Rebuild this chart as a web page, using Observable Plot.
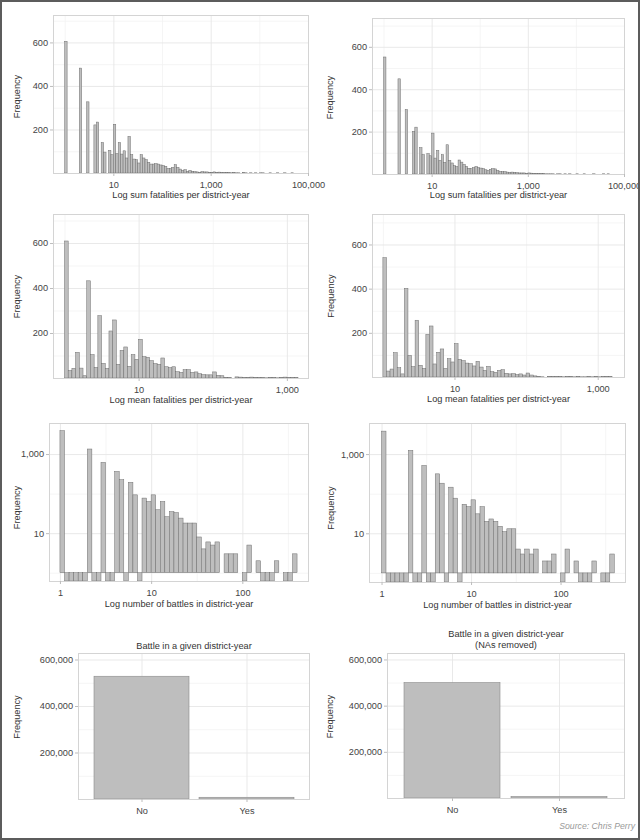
<!DOCTYPE html>
<html><head><meta charset="utf-8">
<script src="https://cdn.jsdelivr.net/npm/d3@7"></script>
<script src="https://cdn.jsdelivr.net/npm/@observablehq/plot@0.6"></script>
<style>
html,body{margin:0;padding:0;background:#fff;}
#page{position:relative;width:640px;height:840px;overflow:hidden;background:#fff;font-family:"Liberation Sans",Arial,sans-serif;}
#page svg{position:absolute;overflow:visible;max-width:none;}
#border{position:absolute;left:0;top:0;width:640px;height:840px;box-sizing:border-box;border:2px solid #5c5c5c;pointer-events:none;}
#source{position:absolute;right:5px;top:821px;font-size:8.7px;font-style:italic;color:#9a9a9a;}
</style></head><body>
<div id="page"><div id="source">Source: Chris Perry</div><div id="border"></div></div>
<script>
// ---- data: histogram bin counts (bins are 0.05 wide on log10 scale, starting at 1) ----
const binWidthLog = 0.05;

const sumFatalitiesAll = [605,0,0,0,0,0,482,0,0,327,
 0,0,221,234,0,140,96,0,104,84,
 224,89,140,87,102,69,168,84,64,61,
 46,84,69,61,49,41,41,43,41,37,
 34,31,21,21,26,38,26,18,12,15,
 8,12,8,6,5,3,6,5,5,3,
 3,5,3,4,2,2,3,2,1,2,
 1,1,0,2,1,0,1,0,1,0,
 1,1,0,0,1,0,0,1,0,0,
 1,0,0,1];

const sumFatalitiesNoNA = [552,0,0,0,0,0,449,0,0,304,
 0,0,201,221,0,124,91,0,96,86,
 193,75,111,64,91,55,138,64,52,39,
 35,66,56,45,36,27,25,30,35,30,
 28,25,20,17,22,25,24,17,12,11,
 11,9,8,9,8,6,5,5,5,3,
 5,4,3,3,2,2,2,1,1,1,
 1,0,1,1,0,1,0,1,0,0,
 1,0,0,1,0,0,0,1,0,0,
 0,1,0,1];

const meanFatalitiesAll = [609,33,43,114,44,10,432,104,47,277,
 65,43,209,258,61,123,138,52,104,83,
 172,95,92,77,64,61,89,50,46,50,
 28,25,37,37,25,27,19,15,14,14,
 27,12,10,3,2,0,5,4,2,3,
 4,3,2,2,1,3,2,1,3,4,
 2,2,2];

const meanFatalitiesNoNA = [540,27,36,110,42,14,401,98,47,257,
 53,39,193,231,59,112,127,39,83,68,
 151,80,74,63,60,50,71,45,30,48,
 24,21,30,33,17,14,15,11,14,9,
 18,9,5,3,1,0,3,2,3,2,
 1,2,3,1,2,1,1,2,1,3,
 1,2,3,2];

const battlesAll = [3900,0,0,0,0,0,1340,0,0,614,
 0,0,363,224,0,192,93,0,77,63,
 93,39,63,26,35,33,24,18,18,18,
 8,4,6,5,6,1,3,3,3,1,
 0,5,1,2,0,0,0,2,1,0,
 0,3];

const battlesNoNA = [3800,0,0,0,0,0,1235,0,0,516,
 0,0,317,184,0,146,77,0,54,47,
 70,31,47,20,23,20,15,11,13,13,
 4,3,4,3,4,1,2,2,3,1,
 0,4,1,2,0,0,0,2,1,0,
 0,3];

const battleCategories = ["No", "Yes"];
const battleAnyAll = [528000, 7400];
const battleAnyNoNA = [500000, 6700];

// ---- tick labels ----
const sumTicks = [10, 1000, 100000];
const sumMinorTicks = [1, 100, 10000];
const meanTicks = [10, 1000];
const meanMinorTicks = [1, 100];
const battleTicks = [1, 10, 100];
const battleMinorTicks = [3.16, 31.6, 316];
const freqTicks = [200, 400, 600];
const freqMinorTicks = [100, 300, 500, 700];
const freqLogTicks = [10, 1000];
const freqLogMinorTicks = [1, 100];
const countTicks = [200000, 400000, 600000];
const countMinorTicks = [100000, 300000, 500000];

// ---- styles ----
const FONT = '"Liberation Sans", Arial, sans-serif';
const FS = 9.2;
const BAR_FILL = "#bebebe", BAR_STROKE = "#6e6e6e";
const FRAME = "#d4d4d4", GRID_MAJOR = "#e6e6e6", GRID_MINOR = "#f2f2f2";
const TICK = "#bdbdbd", TICK_TEXT = "#444", TITLE_TEXT = "#333";
const fmt = d3.format(",");

const page = document.getElementById("page");
function place(svg, left, top) {
  svg.style.left = left + "px";
  svg.style.top = top + "px";
  page.insertBefore(svg, document.getElementById("border"));
}

function commonMarks({xTicks, xMinor, yTicks, yMinor, xLabel, xLabelDy, yTitleDx, yTitleDy, xFormat}) {
  const marks = [
    Plot.gridX(xMinor, {stroke: GRID_MINOR, strokeOpacity: 1, strokeWidth: 0.8}),
    Plot.gridY(yMinor, {stroke: GRID_MINOR, strokeOpacity: 1, strokeWidth: 0.8}),
    Plot.gridX(xTicks, {stroke: GRID_MAJOR, strokeOpacity: 1, strokeWidth: 0.9}),
    Plot.gridY(yTicks, {stroke: GRID_MAJOR, strokeOpacity: 1, strokeWidth: 0.9})
  ];
  const after = [
    Plot.frame({stroke: FRAME, strokeWidth: 1}),
    Plot.axisX(xTicks, {tickFormat: xFormat, tickSize: 3, tickPadding: 4.5, stroke: TICK, fill: TICK_TEXT, label: null, fontSize: FS}),
    Plot.axisY(yTicks, {tickFormat: fmt, tickSize: 3, tickPadding: 2.5, stroke: TICK, fill: TICK_TEXT, label: null, fontSize: FS}),
    Plot.text(["Frequency"], {text: d => d, frameAnchor: "left", rotate: -90, dx: yTitleDx, dy: yTitleDy,
      textAnchor: "middle", lineAnchor: "middle", fontSize: FS, fill: TITLE_TEXT})
  ];
  if (xLabel) after.push(Plot.text([xLabel], {text: d => d, frameAnchor: "bottom", dy: xLabelDy,
      lineAnchor: "middle", fontSize: FS, fill: TITLE_TEXT}));
  return [marks, after];
}

function histogram(p) {
  const bins = p.counts.map((count, k) => ({
    lo: 10 ** (k * binWidthLog), hi: 10 ** ((k + 1) * binWidthLog), count
  }));
  const [pre, post] = commonMarks(p);
  const barMark = p.logY
    ? Plot.rect(bins, {x1: "lo", x2: "hi", y1: 1, y2: d => d.count > 0 ? d.count : p.yDomain[0],
        fill: BAR_FILL, stroke: BAR_STROKE, strokeWidth: 0.5})
    : Plot.rect(bins, {x1: "lo", x2: "hi", y1: 0, y2: "count",
        fill: BAR_FILL, stroke: BAR_STROKE, strokeWidth: 0.5});
  const svg = Plot.plot({
    width: p.width, height: p.height,
    marginLeft: p.mL, marginRight: p.mR, marginTop: p.mT, marginBottom: p.mB,
    style: {fontFamily: FONT, fontSize: FS + "px", background: "transparent", color: TICK_TEXT, overflow: "visible"},
    x: {type: "log", domain: p.xDomain},
    y: p.logY ? {type: "log", domain: p.yDomain} : {domain: p.yDomain},
    marks: [...pre, barMark, ...post]
  });
  place(svg, p.left, p.top);
}

function barPanel(p) {
  const data = p.categories.map((c, i) => ({c, v: p.values[i]}));
  const [pre, post] = commonMarks({...p, xTicks: p.categories, xMinor: [], xFormat: d => d});
  const svg = Plot.plot({
    width: p.width, height: p.height,
    marginLeft: p.mL, marginRight: p.mR, marginTop: p.mT, marginBottom: p.mB,
    style: {fontFamily: FONT, fontSize: FS + "px", background: "transparent", color: TICK_TEXT, overflow: "visible"},
    x: {type: "band", domain: p.categories, paddingInner: 0.1, paddingOuter: 0.15},
    y: {domain: p.yDomain},
    marks: [
      ...pre,
      Plot.barY(data, {x: "c", y: "v", fill: BAR_FILL, stroke: "#8a8a8a", strokeWidth: 0.6, inset: 0}),
      ...post,
      Plot.text([p.title], {text: d => d, frameAnchor: "top", dy: p.titleDy, lineAnchor: "middle",
        lineHeight: 1.2, fontSize: FS, fill: TITLE_TEXT})
    ]
  });
  place(svg, p.left, p.top);
}

// Row 1: sum fatalities
histogram({counts: sumFatalitiesAll, left: 0, top: 0, width: 320, height: 205, mL: 53, mR: 12, mT: 15, mB: 32,
  xDomain: [10 ** -0.24, 1e5], yDomain: [0, 726], xTicks: sumTicks, xMinor: sumMinorTicks,
  yTicks: freqTicks, yMinor: freqMinorTicks, xFormat: fmt, xLabel: "Log sum fatalities per district-year",
  xLabelDy: 22, yTitleDx: -36, yTitleDy: 2});
histogram({counts: sumFatalitiesNoNA, left: 320, top: 0, width: 320, height: 205, mL: 52, mR: 16, mT: 18, mB: 31,
  xDomain: [10 ** -0.24, 1e5], yDomain: [0, 736], xTicks: sumTicks, xMinor: sumMinorTicks,
  yTicks: freqTicks, yMinor: freqMinorTicks, xFormat: fmt, xLabel: "Log sum fatalities per district-year",
  xLabelDy: 21, yTitleDx: -42, yTitleDy: 1});

// Row 2: mean fatalities
histogram({counts: meanFatalitiesAll, left: 0, top: 205, width: 320, height: 205, mL: 53, mR: 12, mT: 9, mB: 32,
  xDomain: [10 ** -0.155, 10 ** 3.285], yDomain: [0, 729], xTicks: meanTicks, xMinor: meanMinorTicks,
  yTicks: freqTicks, yMinor: freqMinorTicks, xFormat: fmt, xLabel: "Log mean fatalities per district-year",
  xLabelDy: 21.5, yTitleDx: -36, yTitleDy: 0});
histogram({counts: meanFatalitiesNoNA, left: 320, top: 205, width: 320, height: 205, mL: 52, mR: 16, mT: 9, mB: 33,
  xDomain: [10 ** -0.152, 10 ** 3.367], yDomain: [0, 738], xTicks: meanTicks, xMinor: meanMinorTicks,
  yTicks: freqTicks, yMinor: freqMinorTicks, xFormat: fmt, xLabel: "Log mean fatalities per district-year",
  xLabelDy: 21.5, yTitleDx: -41, yTitleDy: 0});

// Row 3: number of battles (log frequency)
histogram({counts: battlesAll, logY: true, left: 0, top: 410, width: 320, height: 205, mL: 49, mR: 12, mT: 13, mB: 34,
  xDomain: [10 ** -0.12, 10 ** 2.72], yDomain: [10 ** -0.21, 10 ** 3.785], xTicks: battleTicks, xMinor: battleMinorTicks,
  yTicks: freqLogTicks, yMinor: freqLogMinorTicks, xFormat: fmt, xLabel: "Log number of battles in district-year",
  xLabelDy: 22.5, yTitleDx: -32, yTitleDy: 5});
histogram({counts: battlesNoNA, logY: true, left: 320, top: 410, width: 320, height: 205, mL: 49, mR: 15, mT: 13, mB: 33,
  xDomain: [10 ** -0.14, 10 ** 2.72], yDomain: [10 ** -0.23, 10 ** 3.785], xTicks: battleTicks, xMinor: battleMinorTicks,
  yTicks: freqLogTicks, yMinor: freqLogMinorTicks, xFormat: fmt, xLabel: "Log number of battles in district-year",
  xLabelDy: 22.5, yTitleDx: -38, yTitleDy: 5});

// Row 4: battle yes/no
barPanel({categories: battleCategories, values: battleAnyAll, left: 0, top: 615, width: 320, height: 225,
  mL: 78, mR: 11, mT: 38, mB: 41, yDomain: [0, 628000], yTicks: countTicks, yMinor: countMinorTicks,
  title: "Battle in a given district-year", titleDy: -8.5, xLabel: null, yTitleDx: -61, yTitleDy: -9.5});
barPanel({categories: battleCategories, values: battleAnyNoNA, left: 320, top: 615, width: 320, height: 225,
  mL: 67, mR: 16, mT: 38, mB: 42, yDomain: [0, 628000], yTicks: countTicks, yMinor: countMinorTicks,
  title: "Battle in a given district-year\n(NAs removed)", titleDy: -14.5, xLabel: null, yTitleDx: -57, yTitleDy: -9.5});
</script></body></html>
